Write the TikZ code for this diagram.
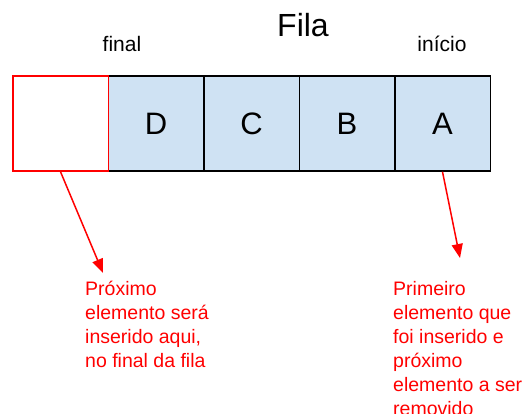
\documentclass[tikz,border=0pt]{standalone}
\usepackage{fontspec}
\setmainfont{Liberation Sans}
\usetikzlibrary{arrows.meta}
\definecolor{cellblue}{HTML}{CFE2F3}
\definecolor{notered}{HTML}{FF0000}

\begin{document}
\begin{tikzpicture}[x=1pt,y=-1pt]
\tikzset{Cell/.style = {shape = rectangle, draw, line width = 1.5pt, minimum width = 95.5pt, minimum height = 95pt, inner sep = 0pt, font = \fontsize{31}{37}\selectfont},
  Full/.style = {Cell, fill = cellblue},
  Tag/.style = {anchor = base, inner sep = 0pt, font = \fontsize{21}{25}\selectfont},
  Note/.style = {anchor = north west, inner sep = 0pt, align = left, text = notered, font = \fontsize{19.5}{24}\selectfont},
  Pointer/.style = {draw = notered, line width = 1.5pt, -{Triangle[length = 14pt, width = 11pt]}}}
\useasboundingbox (0,0) rectangle (528,414);

\node[Full] (D) at (156,123.5) {D}; \node[Full] (C) at (251.5,123.5) {C};
\node[Full] (B) at (347,123.5) {B}; \node[Full] (A) at (442.5,123.5) {A};
\node[Cell, draw = notered, fill = white] (tail) at (60.5,123.5) {};

\node[Tag, font = \fontsize{32}{38}\selectfont] (title) at (303,37) {Fila};
\node[Tag] (final) at (122,52) {final};
\node[Tag] (start) at (442,52) {início};

\node[Note] (noteL) at (85,281) {Próximo\\elemento será\\inserido aqui,\\no final da fila};
\node[Note] (noteR) at (393,281) {Primeiro\\elemento que\\foi inserido e\\próximo\\elemento a ser\\removido};

\coordinate (tipL) at (103,273); \coordinate (tipR) at (460,258);
\draw[Pointer] (tail.south) -- (tipL);
\draw[Pointer] (A.south) -- (tipR);
\end{tikzpicture}
\end{document}
